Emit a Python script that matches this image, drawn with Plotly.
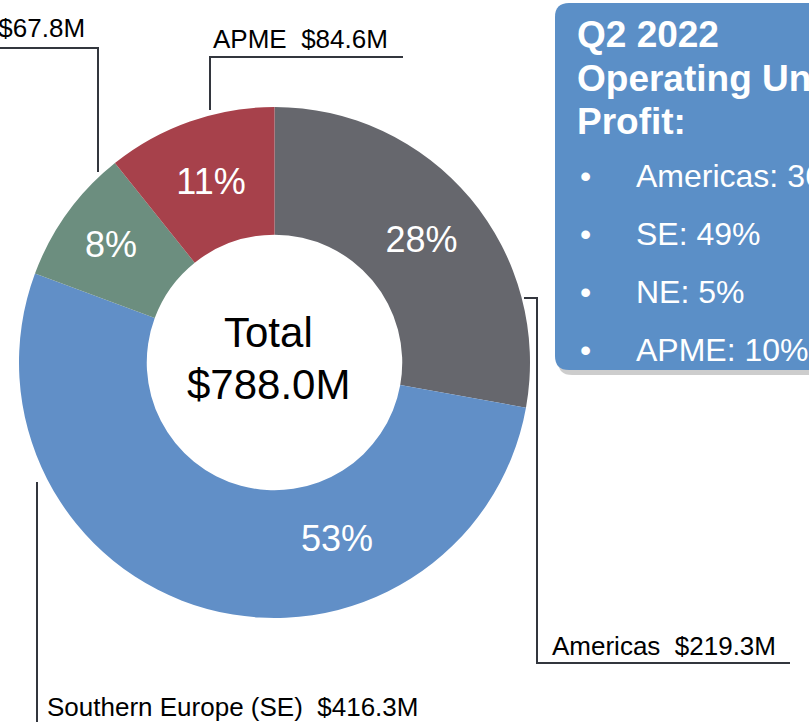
import plotly.graph_objects as go

# ---- data ----
regions = ["Americas", "Southern Europe (SE)", "Northern Europe (NE)", "APME"]
revenue_m = [219.3, 416.3, 67.8, 84.6]
pct_labels = ["28%", "53%", "8%", "11%"]
total_m = 788.0
profit_share_labels = ["Americas: 36%", "SE: 49%", "NE: 5%", "APME: 10%"]
box_title_lines = ["Q2 2022", "Operating Unit", "Profit:"]

slice_colors = ["#66676D", "#618FC7", "#6C8E7F", "#A7414B"]

W, H = 809, 722
FONT = "Liberation Sans, Arial, sans-serif"


def px(x):
    return x / W


def py(y):
    return 1 - y / H


# pie text: SE label is drawn separately (placed off-centre in the original)
pie_text = [t if r != "Southern Europe (SE)" else "" for r, t in zip(regions, pct_labels)]

fig = go.Figure()
fig.add_trace(go.Pie(
    labels=regions,
    values=revenue_m,
    text=pie_text,
    textinfo="text",
    textposition="inside",
    insidetextorientation="horizontal",
    textfont=dict(family=FONT, size=36, color="white"),
    hole=0.5,
    sort=False,
    direction="clockwise",
    rotation=0,
    marker=dict(colors=slice_colors, line=dict(width=0)),
    domain=dict(x=[px(19), px(530)], y=[py(618), py(107)]),
    showlegend=False,
    hoverinfo="label+value",
))

shapes = []
annotations = []

# callout leader lines
line_style = dict(color="#33363E", width=2)


def poly(points):
    d = "M " + " L ".join(f"{px(x)},{py(y)}" for x, y in points)
    shapes.append(dict(type="path", xref="paper", yref="paper", path=d, line=line_style))


poly([(524, 298), (537, 298), (537, 663), (790, 663)])
poly([(37, 482), (37, 730)])
poly([(98, 172), (98, 48), (-5, 48)])
poly([(210, 110), (210, 57), (403, 57)])

label_font = dict(family=FONT, size=26, color="#000000")


def ann(text, x, y, xanchor="left", font=None, yanchor="middle"):
    annotations.append(dict(text=text, x=px(x), y=py(y), xref="paper", yref="paper",
                            xanchor=xanchor, yanchor=yanchor, showarrow=False,
                            font=font or label_font, align="left"))


vals = dict(zip(regions, revenue_m))
ann(f"Americas  ${vals['Americas']:.1f}M", 550, 646)
ann(f"Southern Europe (SE)  ${vals['Southern Europe (SE)']:.1f}M", 45, 707)
ann(f"Northern Europe (NE)  ${vals['Northern Europe (NE)']:.1f}M", 87, 28, xanchor="right")
ann(f"APME  ${vals['APME']:.1f}M", 211, 39)

# SE percentage
ann(pct_labels[1], 337, 538, xanchor="center",
    font=dict(family=FONT, size=36, color="white"))

# centre total
ann("Total", 268, 333, xanchor="center", font=dict(family=FONT, size=42, color="#000000"))
ann(f"${total_m:.1f}M", 268, 384, xanchor="center", font=dict(family=FONT, size=42, color="#000000"))


# rounded box with shadow
def rounded_rect(x0, y0, x1, y1, r):
    rx, ry = r / W, r / H
    X0, X1 = px(x0), px(x1)
    Y0, Y1 = py(y0), py(y1)  # Y0 top (larger), Y1 bottom
    return (f"M {X0+rx},{Y0} L {X1-rx},{Y0} Q {X1},{Y0} {X1},{Y0-ry} "
            f"L {X1},{Y1+ry} Q {X1},{Y1} {X1-rx},{Y1} L {X0+rx},{Y1} "
            f"Q {X0},{Y1} {X0},{Y1+ry} L {X0},{Y0-ry} Q {X0},{Y0} {X0+rx},{Y0} Z")


shapes.append(dict(type="path", xref="paper", yref="paper",
                   path=rounded_rect(558, 7, 830, 375, 14),
                   fillcolor="rgba(90,90,90,0.30)", line=dict(width=0), layer="below"))
shapes.append(dict(type="path", xref="paper", yref="paper",
                   path=rounded_rect(555, 3, 830, 370, 14),
                   fillcolor="#5B8FC7", line=dict(width=0), layer="below"))

title_font = dict(family=FONT, size=37, color="white")
for i, line in enumerate(box_title_lines):
    ann(f"<b>{line}</b>", 575, 35 + i * 43.5, font=title_font)

bullet_font = dict(family=FONT, size=32, color="white")
for i, line in enumerate(profit_share_labels):
    yy = 176 + i * 58
    ann("•", 578, yy, font=bullet_font)
    ann(line, 634, yy, font=bullet_font)

fig.update_layout(
    width=W, height=H,
    margin=dict(l=0, r=0, t=0, b=0),
    paper_bgcolor="white",
    plot_bgcolor="white",
    shapes=shapes,
    annotations=annotations,
    font=dict(family=FONT),
)

fig.write_html(
    "out.html",
    config={"displayModeBar": False},
    post_script="document.body.style.margin='0';document.body.style.padding='0';",
)
